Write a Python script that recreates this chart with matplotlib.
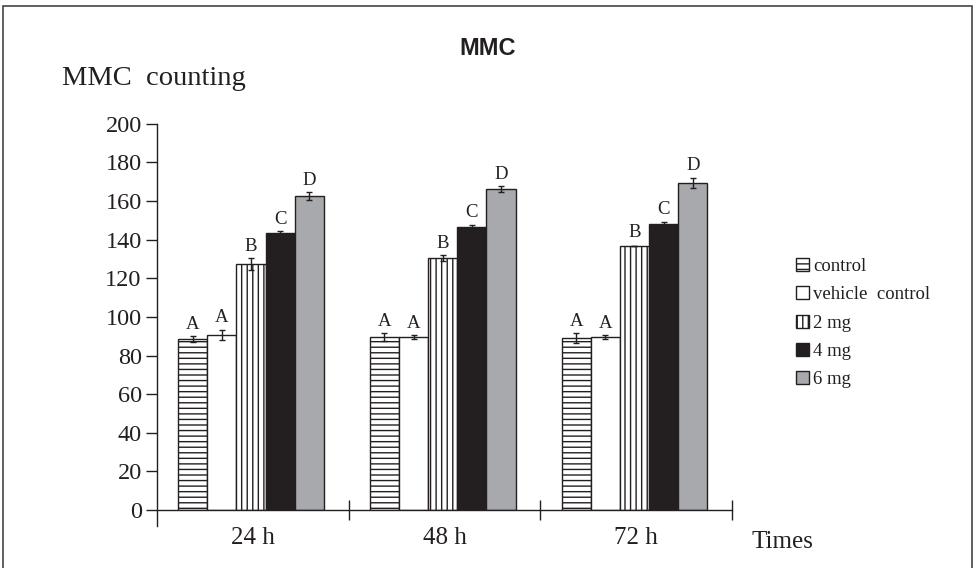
import matplotlib
matplotlib.use("Agg")
import matplotlib.pyplot as plt
import numpy as np
from matplotlib.patches import Rectangle

times = ["24 h", "48 h", "72 h"]
groups = ["control", "vehicle  control", "2 mg", "4 mg", "6 mg"]
values = {
    "control":          [88.6, 89.5, 89.0],
    "vehicle  control": [90.8, 89.5, 89.5],
    "2 mg":             [127.3, 130.4, 136.8],
    "4 mg":             [143.5, 146.8, 148.2],
    "6 mg":             [162.5, 166.3, 169.3],
}
errors = {
    "control":          [1.5, 2.0, 2.6],
    "vehicle  control": [2.5, 1.0, 1.0],
    "2 mg":             [3.0, 1.5, 0.0],
    "4 mg":             [1.0, 1.0, 1.0],
    "6 mg":             [2.0, 1.5, 2.7],
}
letters = ["A", "A", "B", "C", "D"]
yticks = list(range(0, 201, 20))

styles = {
    "control":          dict(facecolor="white", hatch="---"),
    "vehicle  control": dict(facecolor="white", hatch=None),
    "2 mg":             dict(facecolor="white", hatch="|||"),
    "4 mg":             dict(facecolor="#231f20", hatch=None),
    "6 mg":             dict(facecolor="#a7a9ac", hatch=None),
}

plt.rcParams["font.family"] = ["Liberation Serif", "DejaVu Serif"]
plt.rcParams["hatch.linewidth"] = 1.0

fig = plt.figure(figsize=(9.75, 5.68), dpi=100)
ax = fig.add_axes([0.161, 0.102, 0.590, 0.680])

x = np.arange(len(times))
w = 0.152
for i, g in enumerate(groups):
    pos = x + (i - 2) * w - 0.01
    st = styles[g]
    ax.bar(pos, values[g], w, facecolor=st["facecolor"], hatch=st["hatch"],
           edgecolor="#231f20", linewidth=1.0, label=g, zorder=2)
    ax.errorbar(pos, values[g], yerr=errors[g], fmt="none", ecolor="#231f20",
                elinewidth=1.0, capsize=2.5, capthick=1.0, zorder=3)
    for p, v, e in zip(pos, values[g], errors[g]):
        ax.text(p, v + max(e, 0.5) + 1.8, letters[i], ha="center", va="bottom",
                fontsize=13.5, color="#231f20")

ax.set_xlim(-0.5, 2.5)
ax.set_ylim(0, 200)
ax.set_yticks(yticks)
ax.set_yticklabels([str(t) for t in yticks], fontsize=17.5, color="#231f20")
ax.set_xticks(x)
ax.set_xticklabels(times, fontsize=18, color="#231f20")
ax.tick_params(axis="x", which="major", length=0, pad=12)
ax.set_xticks([0.5, 1.5, 2.5], minor=True)
ax.tick_params(axis="x", which="minor", length=14, direction="inout", width=1.0,
               color="#231f20")
ax.tick_params(axis="y", length=8, width=1.0, direction="out", color="#231f20", pad=3)
for s in ["top", "right"]:
    ax.spines[s].set_visible(False)
for s in ["left", "bottom"]:
    ax.spines[s].set_color("#231f20")
    ax.spines[s].set_linewidth(1.0)
ax.spines["left"].set_bounds(-8, 200)
ax.spines["left"].set_clip_on(False)

fig.text(0.064, 0.862, "MMC  counting", fontsize=20.5, color="#231f20", va="center")
fig.text(0.771, 0.046, "Times", fontsize=18, color="#231f20", va="center")
fig.text(0.5, 0.915, "MMC", fontsize=17, fontweight="bold",
         family=["Liberation Sans", "DejaVu Sans"], ha="center", va="center",
         color="#231f20")

leg = ax.legend(loc="center left", bbox_to_anchor=(1.098, 0.484), frameon=False,
                fontsize=13.5, handlelength=0.7, handleheight=0.7,
                handletextpad=0.2, labelspacing=0.6, borderaxespad=0)
for t in leg.get_texts():
    t.set_color("#231f20")

fig.patches.append(Rectangle((0.003, -0.01), 0.994, 1.0, transform=fig.transFigure,
                             fill=False, edgecolor="#444444", linewidth=1.2))

fig.savefig("out.png", dpi=100)
